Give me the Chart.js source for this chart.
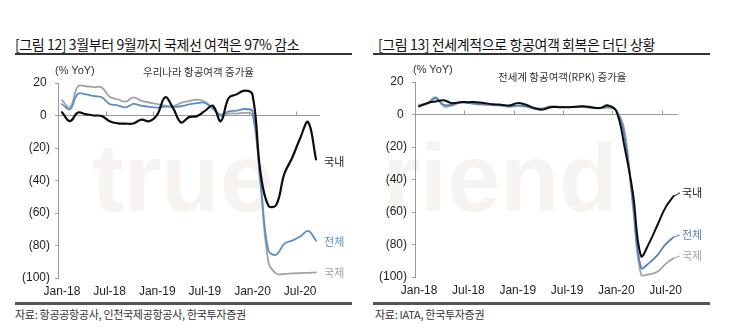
<!DOCTYPE html>
<html><head><meta charset="utf-8">
<script src="https://cdn.jsdelivr.net/npm/chart.js@4.4.1/dist/chart.umd.min.js"></script>
<style>
html,body{margin:0;padding:0;background:#fff;}
body{width:750px;height:329px;position:relative;overflow:hidden;font-family:"Liberation Sans","Noto Sans CJK KR",sans-serif;}
.abs{position:absolute;white-space:nowrap;}
.title{font-family:"Noto Sans CJK KR","Liberation Sans",sans-serif;font-size:14px;color:#111;letter-spacing:-0.4px;line-height:18px;}
.rule{position:absolute;background:#333;}
.src{font-family:"Noto Sans CJK KR",sans-serif;font-size:11px;color:#333;letter-spacing:-0.3px;line-height:14px;}
.inner{font-family:"Noto Sans CJK KR",sans-serif;font-size:10.5px;color:#333;line-height:13px;}
.unit{font-family:"Liberation Sans",sans-serif;font-size:11px;color:#333;line-height:13px;}
.wm{font-family:"Liberation Sans",sans-serif;font-weight:bold;font-size:96px;color:#f7f3f0;line-height:100px;}
canvas{position:absolute;}
</style></head>
<body>
<div class="abs wm" style="left:92px;top:128px;">true</div>
<div class="abs wm" style="left:383px;top:128px;">riend</div>

<div class="abs title" style="left:15px;top:35px;">[그림 12] 3월부터 9월까지 국제선 여객은 97% 감소</div>
<div class="rule" style="left:15px;top:53px;width:337px;height:2px;"></div>
<div class="abs title" style="left:378px;top:35px;">[그림 13] 전세계적으로 항공여객 회복은 더딘 상황</div>
<div class="rule" style="left:373px;top:53px;width:337px;height:2px;"></div>

<canvas id="c1" width="375" height="240" style="left:0;top:60px;"></canvas>
<canvas id="c2" width="375" height="240" style="left:375px;top:60px;"></canvas>

<div class="abs unit" style="left:55px;top:64px;">(% YoY)</div>
<div class="abs inner" style="left:143px;top:65px;">우리나라 항공여객 증가율</div>
<div class="abs unit" style="left:413px;top:63px;">(% YoY)</div>
<div class="abs inner" style="left:498px;top:70px;">전세계 항공여객(RPK) 증가율</div>

<div class="rule" style="left:15px;top:302px;width:337px;height:2.5px;background:#555;"></div>
<div class="rule" style="left:373px;top:302px;width:337px;height:2.5px;background:#555;"></div>
<div class="abs src" style="left:15px;top:307px;">자료: 항공공항공사, 인천국제공항공사, 한국투자증권</div>
<div class="abs src" style="left:375px;top:307px;">자료: IATA, 한국투자증권</div>

<script>
// ---- categories ----
const monthsLeft = ["Jan-18","Feb-18","Mar-18","Apr-18","May-18","Jun-18","Jul-18","Aug-18","Sep-18","Oct-18","Nov-18","Dec-18",
  "Jan-19","Feb-19","Mar-19","Apr-19","May-19","Jun-19","Jul-19","Aug-19","Sep-19","Oct-19","Nov-19","Dec-19",
  "Jan-20","Feb-20","Mar-20","Apr-20","May-20","Jun-20","Jul-20","Aug-20","Sep-20"];
const monthsRight = ["Jan-18","Feb-18","Mar-18","Apr-18","May-18","Jun-18","Jul-18","Aug-18","Sep-18","Oct-18","Nov-18","Dec-18",
  "Jan-19","Feb-19","Mar-19","Apr-19","May-19","Jun-19","Jul-19","Aug-19","Sep-19","Oct-19","Nov-19","Dec-19",
  "Jan-20","Feb-20","Mar-20","Apr-20","May-20","Jun-20","Jul-20","Aug-20"];
const yTicks = [20, 0, -20, -40, -60, -80, -100];
const seriesNames = ["국내", "전체", "국제"];

// ---- Korea (left) % YoY ----
const krDomestic = [2, -3.5, 1.8, 0.8, 0, -0.3, -3.5, -4.8, -5, -4.9, -2.5, -3.5, 0.5, 11.2, 4.5, -4.3, -1, -0.4, 2.8, 6, -3.5, 10.8, 13, 15.3, 12.8, -35, -55.5, -55, -36, -26, -14, -4, -27];
const krTotal    = [7, 3.7, 13.3, 13, 12, 11.2, 7.1, 6.3, 5, 7.1, 6, 5.3, 4.9, 5.5, 5.3, 5.7, 6.8, 7.6, 7.8, 4.2, 0.5, 2.6, 3, 4, 2.5, -40, -83, -85.6, -79, -77, -74.5, -71, -77];
const krIntl     = [9.5, 4.9, 18, 18, 17.5, 17.3, 11.5, 10, 8.5, 11.2, 9, 8, 7, 6, 5.7, 7.8, 8.8, 9.8, 8.5, 4.5, -0.4, 1.2, 1.2, 1.6, 0.5, -42, -90, -97.3, -97.5, -97.2, -97, -96.8, -96.6];

// ---- World RPK (right) % YoY ----
const wDomestic = [5, 7, 8, 8.7, 7, 7.6, 7.6, 7.6, 7, 6.3, 6, 5.6, 7, 6, 4, 3, 4.5, 4.5, 4.5, 4.8, 5.1, 4.5, 4, 5.6, 2, -20, -48, -87, -79, -68, -57, -50];
const wTotal    = [5.5, 6.5, 10, 6, 6, 7.5, 7.2, 6.5, 6.3, 6, 5.6, 5, 5.6, 5, 3.8, 3.5, 4.8, 4.7, 4.6, 4.7, 4.8, 4.2, 3.9, 4.6, 2.4, -14, -53, -94.3, -91.3, -86.5, -79.8, -75.3];
const wIntl     = [6, 7, 10.7, 5, 5.5, 7.3, 7, 6.3, 6, 5.8, 5.4, 4.8, 5.3, 4.8, 3.6, 3.8, 5, 4.8, 4.7, 4.6, 4.6, 4, 3.8, 4.2, 2.6, -10, -56, -98.4, -98.3, -96.8, -91.9, -88.3];

const FONT = '"Liberation Sans","Noto Sans CJK KR",sans-serif';

const decor = {
  id: 'decor',
  beforeDatasetsDraw(chart) {
    const {ctx, chartArea, scales} = chart;
    const x = scales.x, y = scales.y;
    const y0 = Math.round(y.getPixelForValue(0)) + 0.5;
    ctx.save();
    ctx.strokeStyle = '#9a9a9a';
    ctx.lineWidth = 1;
    ctx.beginPath();
    ctx.moveTo(chartArea.left, y0); ctx.lineTo(chartArea.right, y0);
    const n = chart.data.labels.length;
    for (let i = 6; i < n; i += 6) {
      const xb = Math.round((x.getPixelForValue(i - 1) + x.getPixelForValue(i)) / 2) + 0.5;
      ctx.moveTo(xb, y0 - 4); ctx.lineTo(xb, y0);
    }
    ctx.stroke();
    ctx.restore();
  },
  afterDatasetsDraw(chart, args, opts) {
    const {ctx} = chart;
    ctx.save();
    ctx.font = '11px "Noto Sans CJK KR",sans-serif';
    ctx.textBaseline = 'middle';
    chart.data.datasets.forEach((ds, di) => {
      const meta = chart.getDatasetMeta(di);
      const pt = meta.data[meta.data.length - 1];
      const o = (opts.offsets || [])[di] || {dx: 7, dy: 0};
      const lx = pt.x + o.dx, ly = pt.y + o.dy;
      if (o.leader) {
        ctx.strokeStyle = ds.borderColor; ctx.lineWidth = 1;
        ctx.beginPath(); ctx.moveTo(pt.x + 1, pt.y); ctx.lineTo(lx - 2, ly); ctx.stroke();
      }
      ctx.fillStyle = ds.labelColor || ds.borderColor;
      ctx.fillText(ds.label, lx, ly);
    });
    ctx.restore();
  }
};

function makeChart(id, labels, d1, d2, d3, cfg) {
  return new Chart(document.getElementById(id), {
    type: 'line',
    data: {
      labels: labels,
      datasets: [
        {label: seriesNames[0], data: d1, borderColor: '#0d0d0d', labelColor: '#222', borderWidth: cfg.bw0, order: 0},
        {label: seriesNames[1], data: d2, borderColor: cfg.blue, borderWidth: 1.8, order: 1},
        {label: seriesNames[2], data: d3, borderColor: '#a3a3a3', borderWidth: 1.8, order: 2}
      ]
    },
    options: {
      responsive: false,
      animation: false,
      devicePixelRatio: 1,
      layout: {padding: {top: cfg.top, right: cfg.right, left: 0, bottom: 0}},
      elements: {point: {radius: 0}, line: {tension: 0.4, borderCapStyle: 'round', borderJoinStyle: 'round'}},
      plugins: {legend: {display: false}, tooltip: {enabled: false}, decor: {offsets: cfg.offsets}},
      scales: {
        x: {
          type: 'category', offset: true,
          grid: {display: false, drawTicks: false},
          border: {display: false},
          ticks: {
            autoSkip: false, maxRotation: 0, minRotation: 0, padding: 6,
            color: '#222', font: {family: FONT, size: 12},
            callback: function(v, i) { return i % 6 === 0 ? this.getLabelForValue(v) : ''; }
          },
          afterFit: s => { s.height = cfg.xh; }
        },
        y: {
          min: -100, max: 20,
          afterBuildTicks: s => { s.ticks = yTicks.map(v => ({value: v})); },
          grid: {drawOnChartArea: false, drawTicks: true, tickLength: 3, color: '#9a9a9a'},
          border: {display: true, color: '#9a9a9a', width: 1},
          ticks: {
            padding: 5, color: '#222', font: {family: FONT, size: 12},
            callback: v => v < 0 ? '(' + (-v) + ')' : v + ' '
          },
          afterFit: s => { s.width = cfg.yw; }
        }
      }
    },
    plugins: [decor]
  });
}

makeChart('c1', monthsLeft, krDomestic, krTotal, krIntl, {
  top: 23, right: 55, xh: 22, yw: 58, bw0: 2.2, blue: '#5b8ec6',
  offsets: [{dx: 8, dy: 2}, {dx: 8, dy: 1}, {dx: 8, dy: 0}]
});
makeChart('c2', monthsRight, wDomestic, wTotal, wIntl, {
  top: 22, right: 72, xh: 23, yw: 40, bw0: 2, blue: '#5283bd',
  offsets: [{dx: 8, dy: -3, leader: true}, {dx: 8, dy: -2, leader: true}, {dx: 8, dy: -2, leader: true}]
});
</script>
</body></html>
